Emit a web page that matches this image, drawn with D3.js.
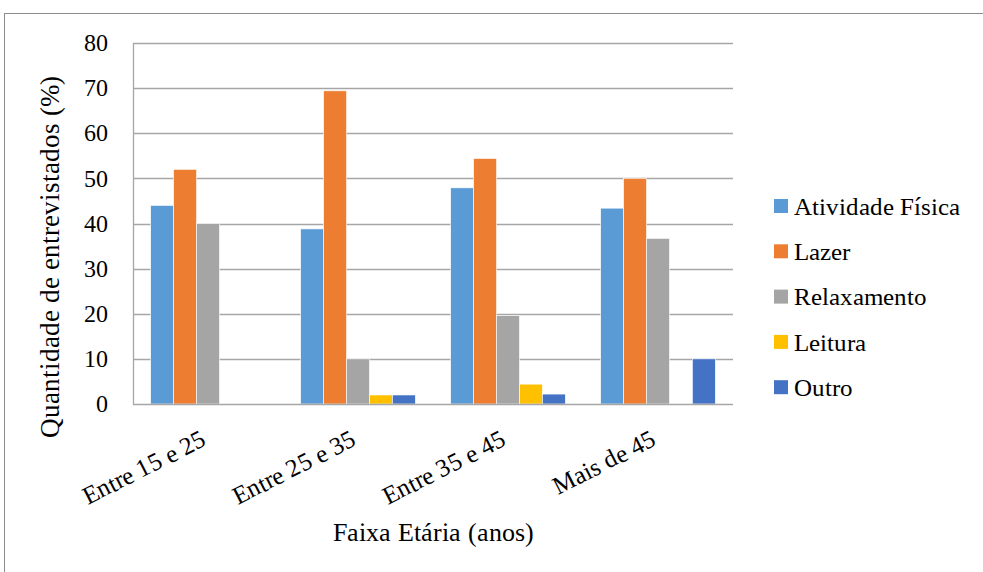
<!DOCTYPE html>
<html>
<head>
<meta charset="utf-8">
<script src="https://cdn.jsdelivr.net/npm/d3@7"></script>
<style>
  @font-face { font-family: "ChartSerif"; src: local("Liberation Serif"), local("LiberationSerif"), local("LiberationSerif-Regular"); }
  html, body { margin: 0; padding: 0; background: #fff; }
  svg text { font-family: "ChartSerif", "Liberation Serif", "Tinos", "DejaVu Serif"; fill: #000; }
</style>
</head>
<body>
<svg id="chart" width="983" height="572"></svg>
<script>
// Age groups and activity series (percent of respondents)
const categories = ["Entre 15 e 25", "Entre 25 e 35", "Entre 35 e 45", "Mais de 45"];
const seriesNames = ["Atividade Física", "Lazer", "Relaxamento", "Leitura", "Outro"];
const atividadeFisica = [44, 38.8, 47.9, 43.4];
const lazer = [52, 69.4, 54.4, 50];
const relaxamento = [40, 10, 19.6, 36.7];
const leitura = [0, 2, 4.4, 0];
const outro = [0, 2, 2.2, 10];
const yTicks = [0, 10, 20, 30, 40, 50, 60, 70, 80];
const colors = ["#5b9bd5", "#ed7d31", "#a5a5a5", "#ffc000", "#4472c4"];

const seriesValues = [atividadeFisica, lazer, relaxamento, leitura, outro];

const svg = d3.select("#chart");

// outer frame
svg.append("rect")
  .attr("x", 4.5).attr("y", 13.5)
  .attr("width", 1000).attr("height", 600)
  .attr("fill", "#fff").attr("stroke", "#8c8c8c").attr("stroke-width", 1);

const plot = { left: 133, right: 733, top: 43, bottom: 404 };

const x0 = d3.scaleBand().domain(categories).range([plot.left, plot.right]).paddingInner(0).paddingOuter(0);
const innerPad = 0.118;
const x1 = d3.scaleBand().domain(seriesNames)
  .range([x0.bandwidth() * innerPad, x0.bandwidth() * (1 - innerPad)]).padding(0);
const y = d3.scaleLinear().domain([0, 80]).range([plot.bottom, plot.top]);

// gridlines
svg.append("g").selectAll("line").data(yTicks.filter(t => t > 0)).join("line")
  .attr("x1", plot.left).attr("x2", plot.right)
  .attr("y1", d => Math.round(y(d)) + 0.5).attr("y2", d => Math.round(y(d)) + 0.5)
  .attr("stroke", "#a6a6a6").attr("stroke-width", 1.3);

// bars
const groups = svg.append("g").selectAll("g").data(categories).join("g")
  .attr("transform", d => `translate(${x0(d)},0)`);
groups.selectAll("rect")
  .data((c, i) => seriesNames.map((s, k) => ({ s, k, v: seriesValues[k][i] })))
  .join("rect")
  .attr("x", d => x1(d.s))
  .attr("width", x1.bandwidth())
  .attr("y", d => y(d.v))
  .attr("height", d => y(0) - y(d.v))
  .attr("fill", d => colors[d.k])
  .attr("stroke", "#fff").attr("stroke-width", 0.6);

// axis lines
svg.append("line").attr("x1", plot.left + 0.5).attr("x2", plot.left + 0.5)
  .attr("y1", plot.top).attr("y2", plot.bottom + 0.5)
  .attr("stroke", "#a6a6a6").attr("stroke-width", 1.3);
svg.append("line").attr("x1", plot.left).attr("x2", plot.right)
  .attr("y1", plot.bottom + 0.5).attr("y2", plot.bottom + 0.5)
  .attr("stroke", "#a6a6a6").attr("stroke-width", 1.5);

// y axis
const yAxis = d3.axisLeft(y).tickValues(yTicks).tickSize(0).tickPadding(25);
const yg = svg.append("g").attr("transform", `translate(${plot.left},0)`).call(yAxis);
yg.attr("font-family", null).attr("font-size", null);
yg.select(".domain").remove();
yg.selectAll("text").style("font-size", "24px").attr("fill", "#000");

// x axis labels, rotated about the end of their baseline
const xAxis = d3.axisBottom(x0).tickSize(0).tickPadding(0);
const xg = svg.append("g").attr("transform", `translate(0,${plot.bottom})`).call(xAxis);
xg.attr("font-family", null).attr("font-size", null);
xg.select(".domain").remove();
xg.selectAll("text")
  .style("font-size", "25px").attr("fill", "#000")
  .attr("text-anchor", "end")
  .attr("dy", null).attr("y", 0)
  .attr("transform", "translate(0,40) rotate(-27)");

// axis titles
svg.append("text")
  .attr("x", (plot.left + plot.right) / 2).attr("y", 541)
  .attr("text-anchor", "middle")
  .style("font-size", "26px")
  .text("Faixa Etária (anos)");
svg.append("text")
  .attr("transform", "translate(59,257) rotate(-90)")
  .attr("text-anchor", "middle")
  .style("font-size", "27px")
  .text("Quantidade de entrevistados (%)");

// legend
const legend = svg.append("g").attr("transform", "translate(774,206)");
const rows = legend.selectAll("g").data(seriesNames).join("g")
  .attr("transform", (d, i) => `translate(0,${i * 45.3})`);
rows.append("rect").attr("x", 0).attr("y", -7).attr("width", 14).attr("height", 14)
  .attr("fill", (d, i) => colors[i]);
rows.append("text").attr("x", 20).attr("y", 0).attr("dy", "0.35em")
  .style("font-size", "25px")
  .attr("fill", "#000").text(d => d);
</script>
</body>
</html>
